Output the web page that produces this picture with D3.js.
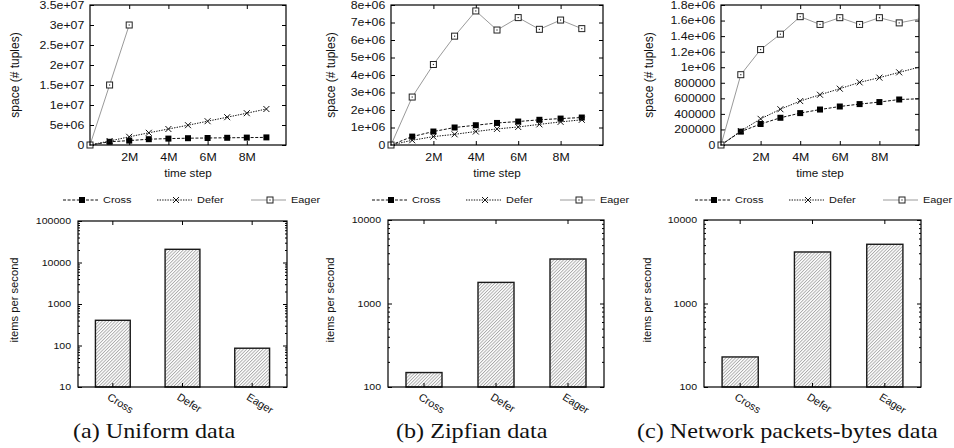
<!DOCTYPE html>
<html>
<head>
<meta charset="utf-8">
<script src="https://cdn.jsdelivr.net/npm/d3@7"></script>
<style>
  body { margin: 0; background: #fff; }
  svg text { font-family: "Liberation Sans", Arial, Helvetica, sans-serif; fill: #111; }
  svg text.caption { font-family: "Liberation Serif", "Times New Roman", serif; fill: #111; }
</style>
</head>
<body>
<div id="chart"></div>
<script>
// Data
//=================================
var timeSteps = [0, 1e6, 2e6, 3e6, 4e6, 5e6, 6e6, 7e6, 8e6, 9e6, 1e7];
var xTickValues = [2e6, 4e6, 6e6, 8e6];
var xTickLabels = ["2M", "4M", "6M", "8M"];
var seriesNames = ["Cross", "Defer", "Eager"];

// space used (# tuples) per time step
var uniformCross = [0, 0.8e6, 1.1e6, 1.45e6, 1.6e6, 1.7e6, 1.75e6, 1.8e6, 1.85e6, 1.9e6];
var uniformDefer = [0, 1.0e6, 2.05e6, 3.05e6, 4.0e6, 4.95e6, 5.95e6, 6.95e6, 7.95e6, 9.0e6];
var uniformEager = [0, 1.5e7, 3.0e7];

var zipfCross = [0, 0.48e6, 0.77e6, 1.0e6, 1.13e6, 1.26e6, 1.34e6, 1.44e6, 1.51e6, 1.57e6];
var zipfDefer = [0, 0.27e6, 0.48e6, 0.61e6, 0.77e6, 0.92e6, 1.03e6, 1.18e6, 1.32e6, 1.44e6];
var zipfEager = [0, 2.74e6, 4.6e6, 6.22e6, 7.66e6, 6.57e6, 7.28e6, 6.61e6, 7.14e6, 6.65e6];

var netCross = [0, 0.172e6, 0.27e6, 0.35e6, 0.41e6, 0.456e6, 0.495e6, 0.526e6, 0.552e6, 0.585e6, 0.594e6];
var netDefer = [0, 0.18e6, 0.336e6, 0.46e6, 0.565e6, 0.646e6, 0.724e6, 0.805e6, 0.866e6, 0.934e6, 1.0e6];
var netEager = [0, 0.904e6, 1.227e6, 1.425e6, 1.65e6, 1.55e6, 1.637e6, 1.55e6, 1.637e6, 1.57e6, 1.62e6];

// throughput (items per second)
var uniformRate = [405, 20800, 86];
var zipfRate = [149, 1790, 3410];
var netRate = [229, 4140, 5120];

// Layout
//=================================
var svgWidth = 954;
var svgHeight = 448;
var SX = 1.15; // the figure's text is a bit wider than tall

var topTop = 5, topBottom = 145;

var panels = [
  { cross: uniformCross, defer: uniformDefer, eager: uniformEager, yMax: 3.5e7, yStep: 5e6,
    left: 90, right: 286, yTitleX: 15, legendX: 63,
    rates: uniformRate, barLeft: 78, barRight: 287, barTop: 221, logMin: 10, logMax: 1e5, barTitleX: 14,
    caption: "(a) Uniform data", captionX: 73 },
  { cross: zipfCross, defer: zipfDefer, eager: zipfEager, yMax: 8e6, yStep: 1e6,
    left: 391, right: 603, yTitleX: 331, legendX: 372,
    rates: zipfRate, barLeft: 388, barRight: 604, barTop: 220, logMin: 100, logMax: 1e4, barTitleX: 330,
    caption: "(b) Zipfian data", captionX: 396 },
  { cross: netCross, defer: netDefer, eager: netEager, yMax: 1.8e6, yStep: 2e5,
    left: 721, right: 919, yTitleX: 649, legendX: 695,
    rates: netRate, barLeft: 704, barRight: 921, barTop: 220, logMin: 100, logMax: 1e4, barTitleX: 647,
    caption: "(c) Network packets-bytes data", captionX: 637 }
];
var barBottom = 387;

var styles = {
  Cross: { stroke: "#111", dash: "3,1.6" },
  Defer: { stroke: "#111", dash: "1.4,1.2" },
  Eager: { stroke: "#9a9a9a", dash: null }
};

var svg = d3.select("#chart")
  .append("svg")
  .attr("width", svgWidth)
  .attr("height", svgHeight);

// hatch for the bars
svg.append("defs").append("pattern")
  .attr("id", "hatch")
  .attr("patternUnits", "userSpaceOnUse")
  .attr("width", 2.3)
  .attr("height", 2.3)
  .attr("patternTransform", "rotate(45)")
  .call(function(p) {
    p.append("rect").attr("width", 2.3).attr("height", 2.3).attr("fill", "#fff");
    p.append("line").attr("x1", 0.5).attr("y1", 0).attr("x2", 0.5).attr("y2", 2.3)
      .attr("stroke", "#999").attr("stroke-width", 0.75);
  });

// gnuplot style numbers: 0, 200000, 1e+06, 3.5e+07
function gnuFormat(v) {
  if (v === 0) return "0";
  if (Math.abs(v) < 1e6) return String(Math.round(v));
  return v.toExponential().replace(/e([+-])(\d)$/, "e$10$2");
}

// point markers
function drawMarker(g, name, cx, cy) {
  if (name === "Cross") {
    g.append("rect").attr("x", cx - 3).attr("y", cy - 3).attr("width", 6).attr("height", 6)
      .attr("fill", "#000");
  } else if (name === "Defer") {
    g.append("path")
      .attr("d", `M${cx - 3},${cy - 3}L${cx + 3},${cy + 3}M${cx - 3},${cy + 3}L${cx + 3},${cy - 3}`)
      .attr("stroke", "#111").attr("stroke-width", 1).attr("fill", "none");
  } else {
    g.append("rect").attr("x", cx - 3).attr("y", cy - 3).attr("width", 6).attr("height", 6)
      .attr("fill", "#fff").attr("stroke", "#222").attr("stroke-width", 1);
    g.append("rect").attr("x", cx - 0.6).attr("y", cy - 0.6).attr("width", 1.2).attr("height", 1.2)
      .attr("fill", "#333");
  }
}

function stretchText(sel) {
  sel.selectAll("text").attr("transform", `scale(${SX},1)`);
}

// Top row: space over time
//=================================
function drawTop(p) {
  var xScale = d3.scaleLinear().domain([0, 1e7]).range([p.left, p.right]);
  var yScale = d3.scaleLinear().domain([0, p.yMax]).range([topBottom, topTop]);
  var yTicks = d3.range(0, p.yMax + p.yStep / 2, p.yStep);

  var g = svg.append("g");

  // axes with inward ticks on all four sides
  var leftAxis = g.append("g")
    .attr("transform", `translate(${p.left},0)`)
    .call(d3.axisLeft(yScale).tickValues(yTicks).tickFormat(gnuFormat).tickSize(-4).tickPadding(5));
  var rightAxis = g.append("g")
    .attr("transform", `translate(${p.right},0)`)
    .call(d3.axisRight(yScale).tickValues(yTicks).tickFormat("").tickSize(-4));
  var bottomAxis = g.append("g")
    .attr("transform", `translate(0,${topBottom})`)
    .call(d3.axisBottom(xScale).tickValues(xTickValues)
      .tickFormat((d, i) => xTickLabels[i]).tickSize(-4).tickPadding(8));
  var topAxis = g.append("g")
    .attr("transform", `translate(0,${topTop})`)
    .call(d3.axisTop(xScale).tickValues(xTickValues).tickFormat("").tickSize(-4));

  [leftAxis, rightAxis, bottomAxis, topAxis].forEach(function(a) {
    a.select(".domain").remove();
    a.selectAll("line").attr("stroke", "#000");
    a.selectAll("text").attr("font-size", 10.7).attr("fill", "#111")
      .attr("font-family", "'Liberation Sans', Arial, sans-serif");
  });
  stretchText(leftAxis);
  stretchText(bottomAxis);

  // lines and points
  var series = [["Cross", p.cross], ["Defer", p.defer], ["Eager", p.eager]];
  series.forEach(function(s) {
    var name = s[0], vals = s[1], st = styles[name];
    var line = d3.line()
      .x((d, i) => xScale(timeSteps[i]))
      .y(d => yScale(d));
    g.append("path")
      .attr("d", line(vals))
      .attr("fill", "none")
      .attr("stroke", st.stroke)
      .attr("stroke-width", 1)
      .attr("stroke-dasharray", st.dash);
    var mg = g.append("g");
    vals.forEach(function(v, i) {
      if (timeSteps[i] < 1e7) drawMarker(mg, name, xScale(timeSteps[i]), yScale(v));
    });
  });

  // frame
  g.append("rect")
    .attr("x", p.left).attr("y", topTop)
    .attr("width", p.right - p.left).attr("height", topBottom - topTop)
    .attr("fill", "none").attr("stroke", "#000").attr("stroke-width", 1.2);

  // axis titles
  g.append("text")
    .attr("transform", `translate(${(p.left + p.right) / 2},176.5) scale(${SX},1)`)
    .attr("text-anchor", "middle")
    .attr("font-size", 10.2)
    .text("time step");

  g.append("text")
    .attr("transform", `translate(${p.yTitleX},75) rotate(-90)`)
    .attr("text-anchor", "middle")
    .attr("dy", "0.35em")
    .attr("font-size", 12)
    .text("space (# tuples)");

  // legend
  var lg = g.append("g");
  seriesNames.forEach(function(name, i) {
    var lx = p.legendX + i * 94, ly = 200, st = styles[name];
    lg.append("line")
      .attr("x1", lx).attr("x2", lx + 35).attr("y1", ly).attr("y2", ly)
      .attr("stroke", st.stroke).attr("stroke-width", 1)
      .attr("stroke-dasharray", st.dash);
    drawMarker(lg, name, lx + 19, ly);
    lg.append("text")
      .attr("transform", `translate(${lx + 40},${ly}) scale(${SX},1)`)
      .attr("dy", "0.36em")
      .attr("font-size", 9.5)
      .text(name);
  });
}

// Bottom row: throughput on a log scale
//=================================
function drawBottom(p) {
  var xBand = d3.scaleBand().domain(seriesNames).range([p.barLeft, p.barRight])
    .paddingInner(0.5).paddingOuter(0.25);
  var yLog = d3.scaleLog().domain([p.logMin, p.logMax]).range([barBottom, p.barTop]);

  var majors = [];
  for (var v = p.logMin; v <= p.logMax; v *= 10) majors.push(v);
  var minors = [];
  majors.slice(0, -1).forEach(function(m) {
    for (var k = 2; k <= 9; k++) minors.push(m * k);
  });

  var g = svg.append("g");

  // bars
  g.selectAll("rect.bar")
    .data(p.rates)
    .enter()
    .append("rect")
    .attr("class", "bar")
    .attr("x", (d, i) => xBand(seriesNames[i]))
    .attr("y", d => yLog(d))
    .attr("width", xBand.bandwidth())
    .attr("height", d => barBottom - yLog(d))
    .attr("fill", "url(#hatch)")
    .attr("stroke", "#1a1a1a")
    .attr("stroke-width", 1.4);

  var leftAxis = g.append("g")
    .attr("transform", `translate(${p.barLeft},0)`)
    .call(d3.axisLeft(yLog).tickValues(majors).tickFormat(d3.format("d")).tickSize(-4).tickPadding(6));
  var leftMinor = g.append("g")
    .attr("transform", `translate(${p.barLeft},0)`)
    .call(d3.axisLeft(yLog).tickValues(minors).tickFormat("").tickSize(-2));
  var rightAxis = g.append("g")
    .attr("transform", `translate(${p.barRight},0)`)
    .call(d3.axisRight(yLog).tickValues(majors).tickFormat("").tickSize(-4));
  var rightMinor = g.append("g")
    .attr("transform", `translate(${p.barRight},0)`)
    .call(d3.axisRight(yLog).tickValues(minors).tickFormat("").tickSize(-2));
  var catAxis = g.append("g")
    .attr("transform", `translate(0,${barBottom})`)
    .call(d3.axisBottom(xBand).tickSize(-4));
  var topCat = g.append("g")
    .attr("transform", `translate(0,${p.barTop})`)
    .call(d3.axisTop(xBand).tickFormat("").tickSize(-4));

  [leftAxis, leftMinor, rightAxis, rightMinor, catAxis, topCat].forEach(function(a) {
    a.select(".domain").remove();
    a.selectAll("line").attr("stroke", "#000");
    a.selectAll("text").attr("fill", "#111")
      .attr("font-family", "'Liberation Sans', Arial, sans-serif");
  });
  leftAxis.selectAll("text").attr("font-size", 9.2);
  stretchText(leftAxis);

  catAxis.selectAll("text")
    .attr("font-size", 10.8)
    .attr("text-anchor", "start")
    .attr("x", 0).attr("y", 0)
    .attr("dy", "0.75em")
    .attr("transform", "translate(-2,5) rotate(32)");

  g.append("rect")
    .attr("x", p.barLeft).attr("y", p.barTop)
    .attr("width", p.barRight - p.barLeft).attr("height", barBottom - p.barTop)
    .attr("fill", "none").attr("stroke", "#000").attr("stroke-width", 1.2);

  g.append("text")
    .attr("transform", `translate(${p.barTitleX},300) rotate(-90)`)
    .attr("text-anchor", "middle")
    .attr("dy", "0.35em")
    .attr("font-size", 11.2)
    .text("items per second");

  // sub-figure caption
  g.append("text")
    .attr("class", "caption")
    .attr("transform", `translate(${p.captionX},438) scale(${SX},1)`)
    .attr("font-size", 21)
    .text(p.caption);
}

panels.forEach(function(p) {
  drawTop(p);
  drawBottom(p);
});
</script>
</body>
</html>
